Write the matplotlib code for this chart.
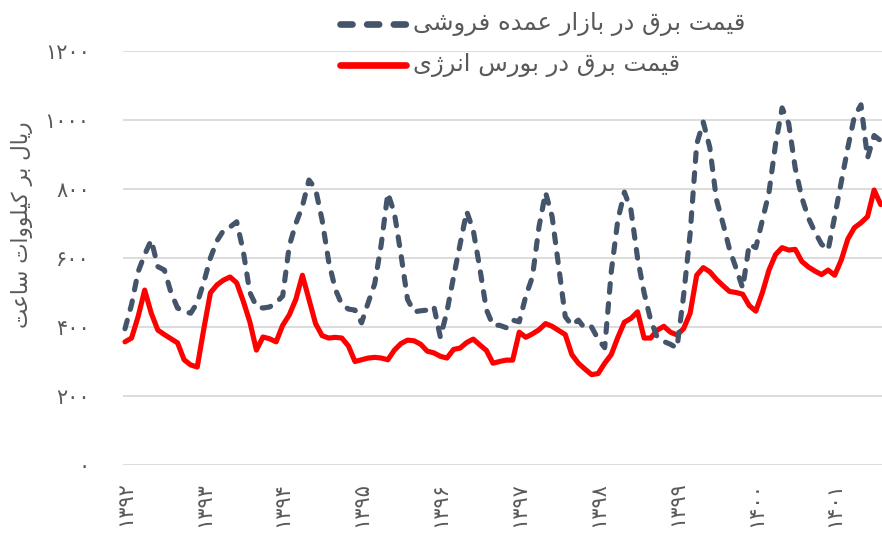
import numpy as np
import matplotlib
matplotlib.use("Agg")
from matplotlib import pyplot as plt
from matplotlib.lines import Line2D

# monthly prices, 1392/01 onwards (rial per kWh)
wholesale = [395, 465, 560, 610, 652, 575, 565, 500, 455, 445, 440, 470,
             530, 600, 650, 680, 690, 705, 620, 500, 460, 455, 458, 470,
             490, 635, 700, 750, 826, 800, 710, 590, 510, 465, 452, 449,
             412, 470, 525, 640, 788, 730, 610, 480, 444, 447, 449, 460,
             370, 445, 545, 640, 735, 680, 570, 450, 405, 405, 398, 420,
             415, 490, 545, 690, 790, 720, 575, 430, 405, 420, 395, 400,
             365, 340, 560, 710, 791, 739, 600, 499, 420, 370, 358, 350,
             339, 490, 670, 930, 994, 920, 770, 700, 625, 570, 513, 640,
             630, 710, 790, 930, 1035, 990, 860, 775, 716, 675, 640, 623,
             720, 820, 920, 1010, 1044, 890, 955, 940]
bourse = [357, 368, 430, 507, 440, 391, 378, 366, 354, 305, 290, 284,
          395, 499, 522, 536, 545, 528, 475, 415, 333, 371, 366, 357,
          405, 435, 480, 550, 480, 410, 375, 368, 370, 368, 345, 300,
          305, 310, 312, 310, 305, 333, 352, 362, 360, 350, 330, 325,
          315, 310, 335, 339, 355, 365, 348, 332, 295, 300, 304, 304,
          385, 370, 380, 392, 410, 402, 390, 378, 320, 295, 278, 262,
          265, 295, 320, 370, 414, 425, 444, 368, 368, 391, 402, 385,
          377, 395, 440, 550, 572, 560, 538, 520, 503, 500, 495, 462,
          446, 500, 565, 610, 630, 623, 625, 590, 574, 562, 552, 565,
          550, 594, 655, 688, 702, 720, 797, 755]
years = ["۱۳۹۲", "۱۳۹۳", "۱۳۹۴", "۱۳۹۵", "۱۳۹۶",
         "۱۳۹۷", "۱۳۹۸", "۱۳۹۹", "۱۴۰۰", "۱۴۰۱"]
yticks = [0, 200, 400, 600, 800, 1000, 1200]
ylabels = ["۰", "۲۰۰", "۴۰۰", "۶۰۰", "۸۰۰", "۱۰۰۰", "۱۲۰۰"]

label_wholesale = "قیمت برق در بازار عمده فروشی"
label_bourse = "قیمت برق در بورس انرژی"
ylabel = "ریال بر کیلووات ساعت"

# matplotlib has no arabic shaping, so pick presentation forms by hand
# (isolated, final, initial, medial)
FORMS = {
    "ا": ("\uFE8D", "\uFE8E", None, None),
    "ب": ("\uFE8F", "\uFE90", "\uFE91", "\uFE92"),
    "ت": ("\uFE95", "\uFE96", "\uFE97", "\uFE98"),
    "د": ("\uFEA9", "\uFEAA", None, None),
    "ر": ("\uFEAD", "\uFEAE", None, None),
    "ز": ("\uFEAF", "\uFEB0", None, None),
    "ژ": ("\uFB8A", "\uFB8B", None, None),
    "س": ("\uFEB1", "\uFEB2", "\uFEB3", "\uFEB4"),
    "ش": ("\uFEB5", "\uFEB6", "\uFEB7", "\uFEB8"),
    "ع": ("\uFEC9", "\uFECA", "\uFECB", "\uFECC"),
    "ف": ("\uFED1", "\uFED2", "\uFED3", "\uFED4"),
    "ق": ("\uFED5", "\uFED6", "\uFED7", "\uFED8"),
    "ک": ("\uFB8E", "\uFB8F", "\uFB90", "\uFB91"),
    "ل": ("\uFEDD", "\uFEDE", "\uFEDF", "\uFEE0"),
    "م": ("\uFEE1", "\uFEE2", "\uFEE3", "\uFEE4"),
    "ن": ("\uFEE5", "\uFEE6", "\uFEE7", "\uFEE8"),
    "ه": ("\uFEE9", "\uFEEA", "\uFEEB", "\uFEEC"),
    "و": ("\uFEED", "\uFEEE", None, None),
    "ی": ("\uFBFC", "\uFBFD", "\uFBFE", "\uFBFF"),
}


def shape(s):
    out = []
    for k, ch in enumerate(s):
        if ch not in FORMS:
            out.append(ch)
            continue
        prev = s[k - 1] if k > 0 else ""
        nxt = s[k + 1] if k + 1 < len(s) else ""
        jp = prev in FORMS and FORMS[prev][2] is not None
        jn = nxt in FORMS and FORMS[ch][2] is not None
        iso, fin, ini, med = FORMS[ch]
        if jp and jn:
            out.append(med)
        elif jp:
            out.append(fin)
        elif jn:
            out.append(ini)
        else:
            out.append(iso)
    return "".join(reversed(out))


dark = "#44546A"
red = "#FF0000"
grey = "#595959"

W, H = 882, 541
fig = plt.figure(figsize=(W / 100, H / 100), dpi=100)
ax = fig.add_axes([123 / W, 76 / H, 759 / W, 414 / H])

x = np.arange(len(wholesale))
ax.plot(x, bourse, color=red, lw=3.7, solid_joinstyle="round",
        solid_capstyle="round", zorder=3, clip_on=False)
ax.plot(x, wholesale, color=dark, lw=3.7, dashes=(1.7, 2.2),
        dash_capstyle="round", dash_joinstyle="round", zorder=4, clip_on=False)

ax.set_xlim(-0.3, 115.2)
ax.set_ylim(0, 1200)
ax.set_yticks(yticks)
ax.set_yticklabels(ylabels)
ax.set_xticks(np.arange(0, 12 * len(years), 12))
ax.set_xticklabels(years, rotation=90, va="top", ha="center")
ax.tick_params(length=0, labelsize=15, labelcolor=grey)
ax.tick_params(axis="y", pad=24)
ax.tick_params(axis="x", pad=12)
ax.grid(axis="y", color="#d9d9d9", lw=1.3)
ax.set_axisbelow(True)
for s in ax.spines.values():
    s.set_visible(False)

fig.text(22 / W, 1 - 225 / H, shape(ylabel), rotation=90, ha="center",
         va="center", fontsize=15.5, color=grey)

# legend drawn by hand, handle left of the RTL text
for yy, lab, col, solid in [(24, label_wholesale, dark, False),
                            (65, label_bourse, red, True)]:
    yf = 1 - yy / H
    ln = Line2D([340 / W, 406 / W], [yf, yf], transform=fig.transFigure,
                color=col, lw=4.8)
    if solid:
        ln.set_solid_capstyle("round")
    else:
        ln.set_dashes((1.8, 2.2))
        ln.set_dash_capstyle("round")
    fig.add_artist(ln)
    fig.text(413 / W, yf, shape(lab), ha="left", va="center",
             fontsize=17.5, color=grey)

fig.savefig("out.png", dpi=100)
